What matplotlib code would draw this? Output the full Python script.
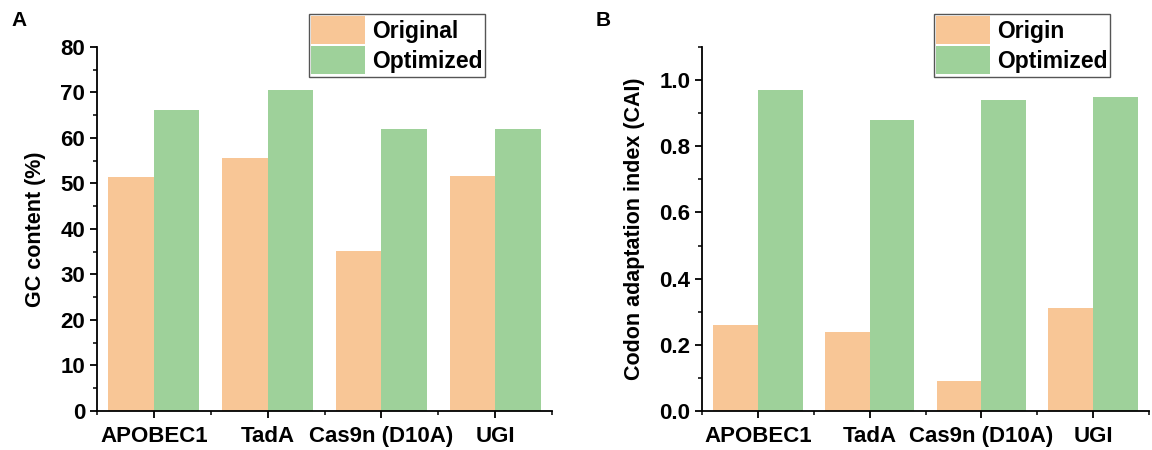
import matplotlib
matplotlib.use("Agg")
import matplotlib.pyplot as plt
import numpy as np
from matplotlib.ticker import MultipleLocator

categories = ["APOBEC1", "TadA", "Cas9n (D10A)", "UGI"]
gc_original = [51.5, 55.6, 35.1, 51.7]
gc_optimized = [66.1, 70.6, 61.9, 61.9]
cai_origin = [0.26, 0.24, 0.09, 0.31]
cai_optimized = [0.97, 0.88, 0.94, 0.95]

orange = "#F8C696"
green = "#9ED19A"

plt.rcParams["font.family"] = ["Liberation Sans", "DejaVu Sans"]
plt.rcParams["font.weight"] = "bold"

fig = plt.figure(figsize=(11.52, 4.5), dpi=100)
axA = fig.add_axes([0.0842, 0.0867, 0.3950, 0.809])
axB = fig.add_axes([0.6094, 0.0867, 0.3880, 0.809])

def draw_panel(ax, vals1, vals2, lab1, ylabel, ymax, major, minor, fmt, leg_anchor):
    x = np.arange(len(categories))
    w = 0.4
    ax.bar(x - w / 2, vals1, w, color=orange, label=lab1)
    ax.bar(x + w / 2, vals2, w, color=green, label="Optimized")
    ax.set_xlim(-0.5, 3.5)
    ax.set_ylim(0, ymax)
    ax.set_xticks(x)
    ax.set_xticklabels(categories, fontsize=16, fontweight="bold")
    ax.set_xticks(np.arange(-0.5, 3.6, 1), minor=True)
    ax.yaxis.set_major_locator(MultipleLocator(major))
    ax.yaxis.set_minor_locator(MultipleLocator(minor))
    ax.yaxis.set_major_formatter(fmt)
    for lab in ax.get_yticklabels():
        lab.set_fontsize(16)
        lab.set_fontweight("bold")
    ax.set_ylabel(ylabel, fontsize=15.5, fontweight="bold", labelpad=10)
    ax.spines["top"].set_visible(False)
    ax.spines["right"].set_visible(False)
    ax.spines["left"].set_linewidth(1.3)
    ax.spines["bottom"].set_linewidth(1.3)
    ax.tick_params(axis="x", which="major", pad=6)
    ax.tick_params(which="major", direction="out", length=5, width=1.3)
    ax.tick_params(which="minor", direction="out", length=3, width=1.1)
    leg = ax.legend(loc="upper right", bbox_to_anchor=leg_anchor,
                    bbox_transform=fig.transFigure, fancybox=False,
                    edgecolor="#555555", framealpha=1, handlelength=2.35,
                    handleheight=1.5, handletextpad=0.3, labelspacing=0.1,
                    borderpad=0.1, borderaxespad=0,
                    prop={"size": 16.5, "weight": "bold"})
    leg.get_frame().set_linewidth(1.0)

draw_panel(axA, gc_original, gc_optimized, "Original", "GC content (%)",
           80, 10, 5, "{x:.0f}", (0.421, 0.969))
draw_panel(axB, cai_origin, cai_optimized, "Origin", "Codon adaptation index (CAI)",
           1.1, 0.2, 0.1, "{x:.1f}", (0.9635, 0.969))

fig.text(0.010, 0.975, "A", fontsize=15, fontweight="bold", va="top")
fig.text(0.517, 0.975, "B", fontsize=15, fontweight="bold", va="top")

fig.savefig("out.png", dpi=100)
